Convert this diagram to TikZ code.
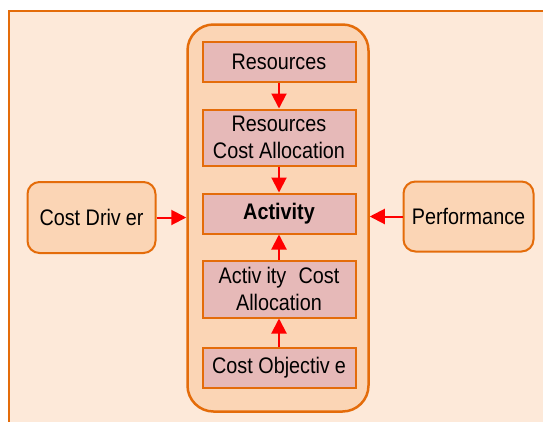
\documentclass[tikz,border=0pt]{standalone}
\usepackage{fontspec}
\setmainfont{Liberation Sans}[FakeStretch=0.88]
\usetikzlibrary{arrows.meta}
\definecolor{framefill}{HTML}{FDE9D9}
\definecolor{edge}{HTML}{E46C0A}
\definecolor{groupfill}{HTML}{FBD5B5}
\definecolor{stagefill}{HTML}{E6B9B8}
\definecolor{flow}{HTML}{FF0000}
\begin{document}
\begin{tikzpicture}[x=1pt,y=-1pt,
  label font/.style={font=\fontsize{22.5}{26.5}\selectfont},
  stage/.style={draw=edge, line width=2pt, fill=stagefill, minimum width=153pt,
    align=center, inner sep=0pt, label font},
  sidebox/.style={draw=edge, line width=2pt, fill=groupfill, rounded corners=12pt,
    align=center, inner sep=0pt, label font},
  flowarrow/.style={draw=flow, line width=2pt,
    -{Triangle[length=15pt,width=15pt]}}
]
\useasboundingbox (0,0) rectangle (543,421);
\clip (0,0) rectangle (543,421);
% outer panel, running past the right and lower edges
\draw[edge, line width=2pt, fill=framefill] (8.5,11) rectangle (600,480);

% grouping container for the allocation chain
\node[draw=edge, line width=2.5pt, fill=groupfill, rounded corners=26pt,
      minimum width=181pt, minimum height=387pt] (grp) at (278,218) {};

% allocation chain
\node[stage, minimum height=40pt] (res) at (279,61.5) {Resources};
\node[stage, minimum height=56pt] (rca) at (279,137.5) {Resources\\Cost Allocation};
\node[stage, minimum height=40pt, font=\fontsize{22.5}{26.5}\selectfont\bfseries] (act) at (279,213.5) {Activity};
\node[stage, minimum height=57pt] (aca) at (279,289) {Activ\hspace{0.22em}ity\hspace{0.3em} Cost\\Allocation};
\node[stage, minimum height=40pt] (obj) at (279,367.5) {Cost Objectiv\hspace{0.22em}e};

% external influences
\node[sidebox, minimum width=128pt, minimum height=71pt] (drv) at (91.5,217.5) {Cost Driv\hspace{0.22em}er};
\node[sidebox, minimum width=130pt, minimum height=70pt] (perf) at (468.5,216.5) {Performance};

% connectors
\draw[flowarrow] (res) -- (rca);
\draw[flowarrow] (rca) -- (act);
\draw[flowarrow] (aca) -- (act);
\draw[flowarrow] (obj) -- (aca);
\draw[flowarrow] (drv.east) -- (drv.east -| grp.west);
\draw[flowarrow] (perf.west) -- (perf.west -| grp.east);
\end{tikzpicture}
\end{document}
